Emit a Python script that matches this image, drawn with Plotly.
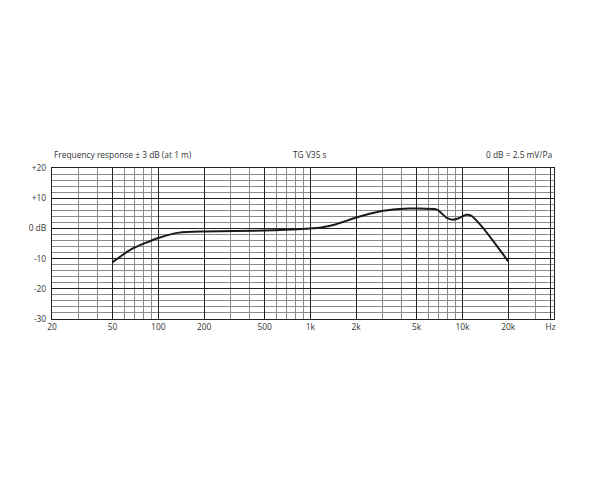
import numpy as np
import plotly.graph_objects as go

# frequency response
freq_hz = [50, 67, 100, 137, 200, 500, 1000, 1150, 1480, 2000, 2850, 3860, 4500,
           5000, 6740, 7080, 7830, 8660, 9350, 10600, 11400, 13000, 15900, 20000]
level_db = [-11.2, -6.8, -3.2, -1.4, -1.0, -0.7, 0.0, 0.2, 1.4, 3.6, 5.6, 6.4, 6.6,
            6.6, 6.3, 5.6, 3.6, 2.9, 3.3, 4.5, 4.2, 1.4, -4.1, -10.9]

x_major = [20, 50, 100, 200, 500, 1000, 2000, 5000, 10000, 20000, 38000]
x_major_text = ['20', '50', '100', '200', '500', '1k', '2k', '5k', '10k', '20k', 'Hz']
x_minor = [30, 40, 60, 70, 80, 90, 300, 400, 600, 700, 800, 900,
           3000, 4000, 6000, 7000, 8000, 9000, 30000]
y_major = [-30, -20, -10, 0, 10, 20]
y_major_text = ['-30', '-20', '-10', '0 dB', '+10', '+20']

font = dict(family='Open Sans', size=8.4, color='#333333')

fig = go.Figure()
fig.add_trace(go.Scatter(
    x=freq_hz, y=level_db, mode='lines',
    line=dict(color='#1a1a1a', width=2, shape='spline', smoothing=0.6),
    showlegend=False,
))

# page body adds ~8px offset, so margins are shifted to compensate
fig.update_layout(
    width=600, height=480,
    margin=dict(l=44, r=54, t=160, b=169),
    plot_bgcolor='#FFFFFF',
    paper_bgcolor='#FFFFFF',
    font=font,
    showlegend=False,
)
fig.update_xaxes(
    type='log', range=[np.log10(20), np.log10(40000)],
    tickvals=x_major, ticktext=x_major_text, ticks='',
    showgrid=True, gridcolor='#222222', gridwidth=1.3,
    minor=dict(tickvals=x_minor, showgrid=True, gridcolor='#8a8a8a', gridwidth=0.8, ticks=''),
    showline=True, linecolor='#222222', linewidth=1.3, mirror=True,
    zeroline=False, tickfont=font,
)
fig.update_yaxes(
    range=[-30, 20],
    tickvals=y_major, ticktext=y_major_text, ticks='', ticklabelstandoff=3,
    showgrid=True, gridcolor='#222222', gridwidth=1.3,
    minor=dict(dtick=2, showgrid=True, gridcolor='#8a8a8a', gridwidth=0.8, ticks=''),
    showline=True, linecolor='#222222', linewidth=1.3, mirror=True,
    zeroline=False, tickfont=font,
)

fig.add_annotation(text='Frequency response ± 3 dB (at 1 m)', xref='paper', yref='paper',
                   x=0, y=1, xanchor='left', yanchor='bottom', yshift=6,
                   showarrow=False, font=font)
fig.add_annotation(text='TG V35 s', xref='x', yref='paper',
                   x=3, y=1, xanchor='center', yanchor='bottom', yshift=6,
                   showarrow=False, font=font)
fig.add_annotation(text='0 dB = 2.5 mV/Pa', xref='paper', yref='paper',
                   x=1, y=1, xanchor='right', yanchor='bottom', yshift=6,
                   showarrow=False, font=font)

fig.write_html("out.html")
